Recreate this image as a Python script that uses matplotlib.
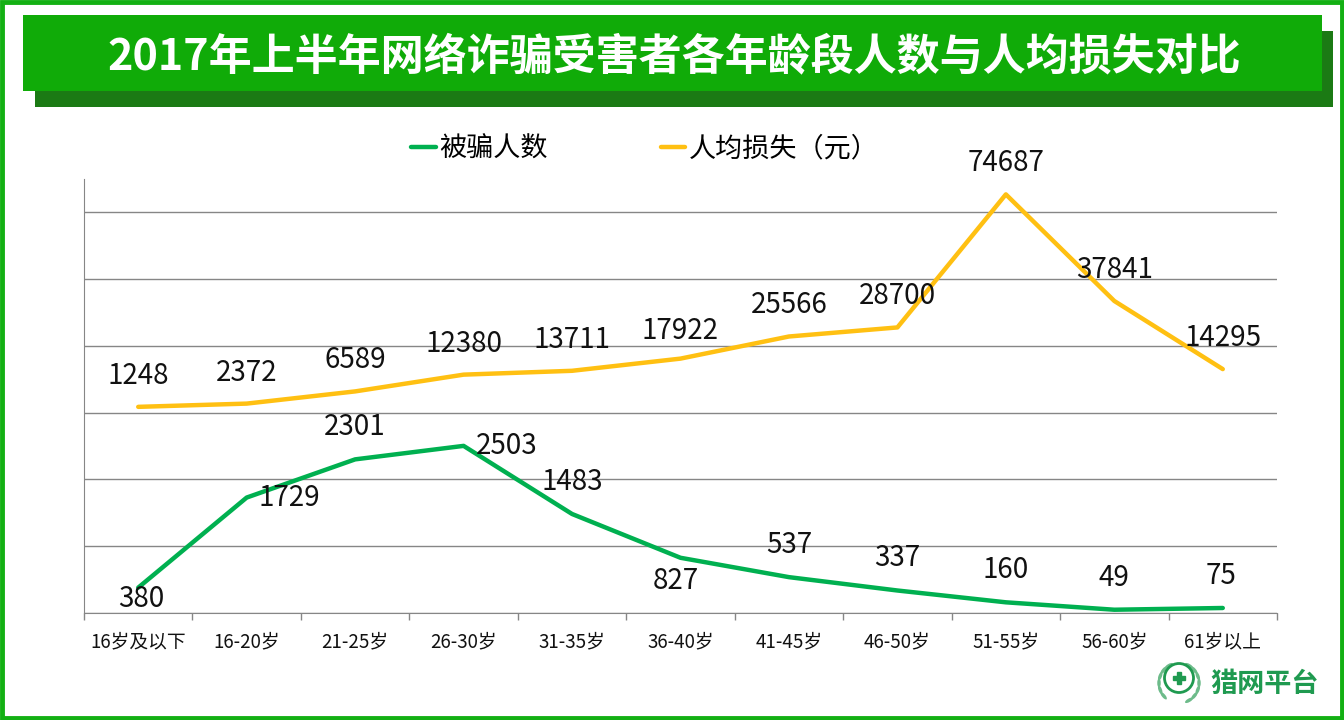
import matplotlib
matplotlib.use('Agg')
import matplotlib.pyplot as plt
import numpy as np
from matplotlib.patches import Rectangle, Circle, Ellipse

plt.rcParams['font.family'] = ['Noto Sans CJK SC', 'DejaVu Sans']

# 数据
age_groups = ['16岁及以下', '16-20岁', '21-25岁', '26-30岁', '31-35岁', '36-40岁',
              '41-45岁', '46-50岁', '51-55岁', '56-60岁', '61岁以上']
victims = [380, 1729, 2301, 2503, 1483, 827, 537, 337, 160, 49, 75]
avg_loss = [1248, 2372, 6589, 12380, 13711, 17922, 25566, 28700, 74687, 37841, 14295]

# 标签偏移（像素）
victims_offset = [(3, -11), (43, 0), (0, 32), (43, 0), (0, 32), (-5, -23),
                  (0, 32), (0, 32), (0, 32), (0, 32), (-2, 32)]
loss_offset = [(0, 31)] * 5 + [(0, 28)] + [(0, 31)] * 5

GREEN = '#00b050'
ORANGE = '#ffc012'
W, H = 1344, 720

fig = plt.figure(figsize=(W / 100, H / 100), dpi=100)


def px_rect(x0, y0, x1, y1, **kw):
    # 像素坐标（原点左上）转 figure 坐标
    fig.add_artist(Rectangle((x0 / W, 1 - y1 / H), (x1 - x0) / W, (y1 - y0) / H,
                             transform=fig.transFigure, **kw))


# 外框和标题栏
px_rect(1.5, 1.5, W - 2, H - 2, facecolor='white', edgecolor='#13b013', linewidth=3.5, zorder=-3)
px_rect(35, 31, 1333, 107, facecolor='#1b7a14', edgecolor='none', zorder=-2)
px_rect(23, 15, 1322, 91, facecolor='#10ab08', edgecolor='none', zorder=-1)
fig.text(674 / W, 1 - 56 / H, '2017年上半年网络诈骗受害者各年龄段人数与人均损失对比',
         color='white', fontsize=31, fontweight='bold', ha='center', va='center')

# 主图
ax = fig.add_axes([84 / W, 1 - 613 / H, (1277 - 84) / W, (613 - 179) / H])
ax.patch.set_alpha(0)
ax.set_xlim(-0.5, 10.5)
ax.set_ylim(0, 6500)
ax.set_yticks(range(0, 7000, 1000))
ax.set_xticks([i - 0.5 for i in range(12)])
ax.set_xticks(range(11), minor=True)
ax.set_xticklabels([])
ax.set_xticklabels(age_groups, minor=True, fontsize=13.5, color='#111111')
ax.set_yticklabels([])
ax.grid(axis='y', color='#868686', linewidth=1)
ax.set_axisbelow(True)
ax.tick_params(axis='x', which='major', length=5, width=1, color='#868686')
ax.tick_params(axis='x', which='minor', length=0, pad=13)
ax.tick_params(axis='y', length=0)
for side in ['top', 'right']:
    ax.spines[side].set_visible(False)
for side in ['left', 'bottom']:
    ax.spines[side].set_color('#868686')

line1, = ax.plot(range(11), victims, color=GREEN, linewidth=3.2, label='被骗人数',
                 solid_capstyle='round', clip_on=False)

# 人均损失用隐藏的次坐标轴
ax2 = ax.twinx()
ax2.set_ylim(-70000, 80000)
ax2.axis('off')
line2, = ax2.plot(range(11), avg_loss, color=ORANGE, linewidth=3.2, label='人均损失（元）',
                  solid_capstyle='round', clip_on=False)

for i, v in enumerate(victims):
    ax2.annotate(str(v), (i, v * 150000 / 6500 - 70000), xytext=victims_offset[i],
                 textcoords='offset pixels', ha='center', va='center', fontsize=20,
                 color='#111111', annotation_clip=False)
for i, v in enumerate(avg_loss):
    ax2.annotate(str(v), (i, v), xytext=loss_offset[i], textcoords='offset pixels',
                 ha='center', va='center', fontsize=20, color='#111111',
                 annotation_clip=False)

fig.legend(handles=[line1, line2], ncol=2, frameon=False, fontsize=19.5,
           loc='center', bbox_to_anchor=(645 / W, 1 - 149 / H),
           handlelength=0.9, handletextpad=0.15, columnspacing=4.15)

# 右下角标志
logo = '#1f9a50'
for a in np.arange(-60, 240, 300 / 15):
    if 70 < a < 110:
        continue
    rad = np.deg2rad(a)
    fig.add_artist(Ellipse((1179 + 20 * np.cos(rad), H - 683 - 20 * np.sin(rad) * -1),
                           9, 3.5, angle=a + 90, facecolor='#6dbb8a', edgecolor='none',
                           transform=None))
fig.add_artist(Circle((1179, H - 678), 14.5, facecolor='white', edgecolor=logo, linewidth=2,
                      transform=None))
fig.add_artist(Rectangle((1173, H - 680), 12, 4, color=logo, transform=None))
fig.add_artist(Rectangle((1177, H - 684), 4, 12, color=logo, transform=None))
fig.text(1264.5 / W, 1 - 684 / H, '猎网平台', color=logo, fontsize=19.5, fontweight='bold',
         ha='center', va='center')

fig.savefig('out.png', dpi=100)
